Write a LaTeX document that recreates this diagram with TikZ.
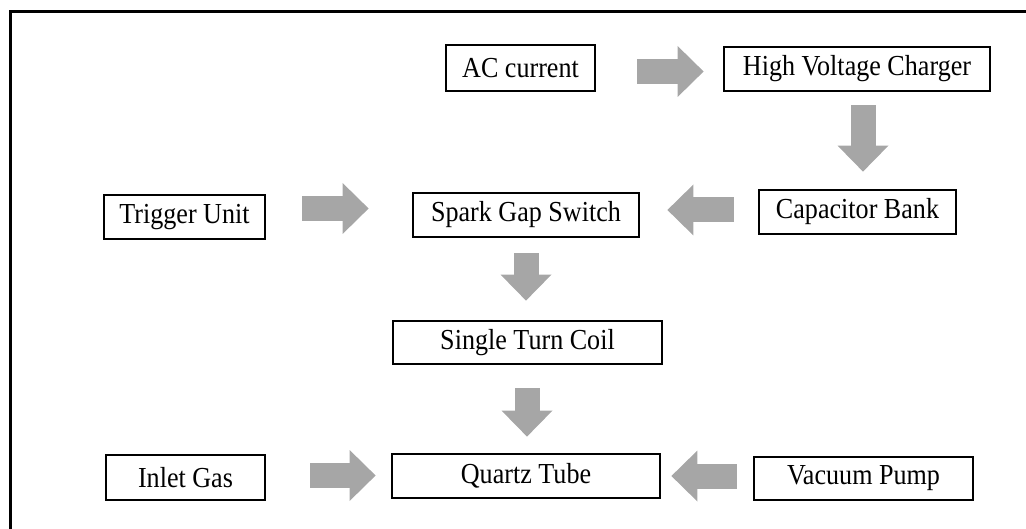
\documentclass[tikz,border=0pt]{standalone}
\usepackage{fontspec}
\setmainfont{Liberation Serif}
\usetikzlibrary{arrows.meta}

\definecolor{arrowgray}{HTML}{A6A6A6}

% labels are set slightly narrow and tall
\newcommand\lbl[1]{\scalebox{0.9}[1]{#1}}

\tikzset{
  unitbox/.style={draw=black, line width=2.8pt, fill=white, rectangle,
    inner sep=0pt, font=\fontsize{29}{34}\selectfont},
  fat/.style={draw=arrowgray, line width=25pt, line cap=butt,
    -{Triangle[length=26pt, width=51pt, line width=0pt, fill=arrowgray]}},
}

\begin{document}
\begin{tikzpicture}[x=1pt, y=-1pt]
  \useasboundingbox (0,0) rectangle (1026,529);

  % outer frame (left and top edges)
  \draw[line width=3pt] (10.5,529) -- (10.5,12) -- (1026,12);

  % blocks
  \node[unitbox, minimum width=149pt, minimum height=46pt] (ac)     at (520.5,68)   {\lbl{AC current}};
  \node[unitbox, minimum width=266pt, minimum height=44pt] (hvc)    at (857,69)     {\lbl{High Voltage Charger}};
  \node[unitbox, minimum width=197pt, minimum height=44pt] (cap)    at (857.5,212)  {\lbl{Capacitor Bank}};
  \node[unitbox, minimum width=226pt, minimum height=44pt] (spark)  at (526,215)    {\lbl{Spark Gap Switch}};
  \node[unitbox, minimum width=161pt, minimum height=44pt] (trig)   at (184.5,217)  {\lbl{Trigger Unit}};
  \node[unitbox, minimum width=269pt, minimum height=43pt] (coil)   at (527.5,342.5){\lbl{Single Turn Coil}};
  \node[unitbox, minimum width=159pt, minimum height=45pt] (inlet)  at (185.5,477.5){\lbl{Inlet Gas}};
  \node[unitbox, minimum width=268pt, minimum height=44pt] (quartz) at (526,476)    {\lbl{Quartz Tube}};
  \node[unitbox, minimum width=219pt, minimum height=43pt] (vac)    at (863.5,478.5){\lbl{Vacuum Pump}};

  % block arrows
  \draw[fat] ([xshift=41pt,yshift=-3.5pt]ac.east)    -- ([xshift=-19pt,yshift=-2.5pt]hvc.west);
  \draw[fat] ([xshift=6pt,yshift=-13pt]hvc.south)    -- ([xshift=5.5pt,yshift=17pt]cap.north);
  \draw[fat] ([xshift=-24pt,yshift=2pt]cap.west)     -- ([xshift=27pt,yshift=5pt]spark.east);
  \draw[fat] ([xshift=36pt,yshift=8.5pt]trig.east)   -- ([xshift=-43pt,yshift=6.5pt]spark.west);
  \draw[fat] ([yshift=-15pt]spark.south)             -- ([xshift=-1.5pt,yshift=19pt]coil.north);
  \draw[fat] ([xshift=-0.5pt,yshift=-23pt]coil.south) -- ([xshift=1pt,yshift=16pt]quartz.north);
  \draw[fat] ([xshift=44pt,yshift=2pt]inlet.east)    -- ([xshift=-15pt,yshift=0.5pt]quartz.west);
  \draw[fat] ([xshift=-16pt,yshift=2.5pt]vac.west)   -- ([xshift=10pt]quartz.east);
\end{tikzpicture}
\end{document}
